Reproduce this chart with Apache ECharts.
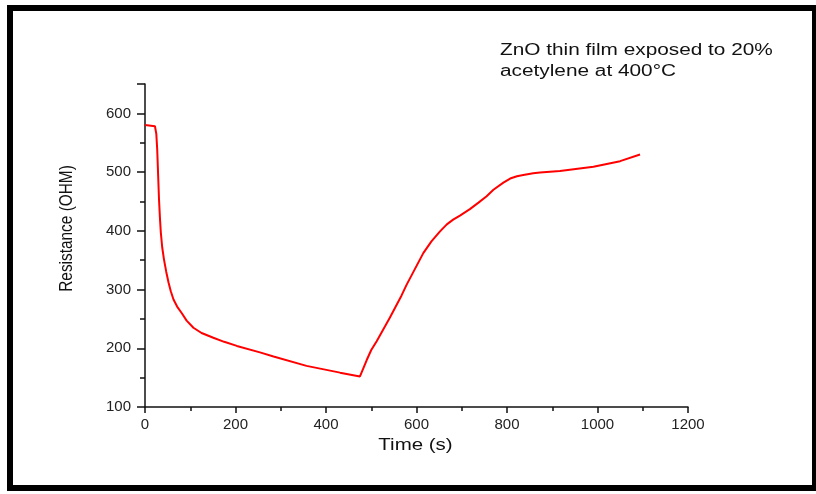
<!DOCTYPE html>
<html>
<head>
<meta charset="utf-8">
<script src="https://cdn.jsdelivr.net/npm/echarts@6/dist/echarts.min.js"></script>
<style>
  html, body { margin: 0; padding: 0; background: #fff; }
  #chart { width: 816px; height: 494px; }
</style>
</head>
<body>
<div id="chart"></div>
<script>
// time (s) and resistance (ohm)
var times = [0, 22, 25, 27, 29, 31, 33, 35, 38, 42, 47, 52, 57, 63, 71, 81, 92, 107, 125, 151, 175,
    203, 254, 284, 357, 431, 475,
    482, 490, 500, 512, 541, 567, 578, 615, 633, 652, 667, 681, 696, 718, 737, 755, 770, 792,
    807, 822, 836, 858, 873, 917, 991, 1050, 1094];
var resistance = [580, 578, 565, 538, 495, 453, 422, 397, 372, 351, 330, 312, 297, 283, 271, 260, 247, 235, 226, 218, 211,
    204, 193, 186, 170, 158.5, 152,
    165, 180, 197, 212, 252, 290, 308, 362, 382, 399, 411, 419, 426, 437, 448, 459, 470, 482,
    489, 493, 495, 498, 499.5, 502, 509, 518.6, 530];

var titleLines = ['ZnO thin film exposed to 20%', 'acetylene at 400\u00B0C'];
var xName = 'Time (s)';
var yName = 'Resistance (OHM)';

var chart = echarts.init(document.getElementById('chart'));

var points = [];
for (var i = 0; i < times.length; i++) {
    points.push([times[i], resistance[i]]);
}

var font = 'Liberation Sans, Arial, sans-serif';
var plain = function (v) { return String(v); };

var option = {
    backgroundColor: '#fff',
    animation: false,
    grid: { left: 145, right: 128, top: 84, bottom: 87 },
    xAxis: {
        type: 'value',
        min: 0,
        max: 1200,
        interval: 200,
        axisLine: { lineStyle: { color: '#111', width: 1.5 } },
        axisTick: { length: 6, lineStyle: { color: '#111', width: 1.5 } },
        minorTick: { show: true, splitNumber: 2, length: 4, lineStyle: { color: '#111', width: 1.5 } },
        splitLine: { show: false },
        axisLabel: { margin: 10, color: '#222', fontSize: 15, fontFamily: font, formatter: plain }
    },
    yAxis: {
        type: 'value',
        min: 100,
        max: 650,
        interval: 100,
        axisLine: { show: true, lineStyle: { color: '#111', width: 1.5 } },
        axisTick: { show: true, length: 8, lineStyle: { color: '#111', width: 1.5 } },
        minorTick: { show: true, splitNumber: 2, length: 5, lineStyle: { color: '#111', width: 1.5 } },
        splitLine: { show: false },
        axisLabel: { margin: 14, color: '#222', fontSize: 15, fontFamily: font, showMaxLabel: false, formatter: plain }
    },
    graphic: [
        {
            type: 'rect',
            shape: { x: 10, y: 8, width: 805, height: 480 },
            style: { fill: 'none', stroke: '#000', lineWidth: 6 }
        },
        {
            type: 'text', x: 500, y: 51, scaleX: 1.3,
            style: { text: titleLines[0], font: '16px ' + font, fill: '#111', textAlign: 'left', textVerticalAlign: 'middle' }
        },
        {
            type: 'text', x: 500, y: 71.5, scaleX: 1.3,
            style: { text: titleLines[1], font: '16px ' + font, fill: '#111', textAlign: 'left', textVerticalAlign: 'middle' }
        },
        {
            type: 'text', x: 415.5, y: 446, scaleX: 1.28,
            style: { text: xName, font: '16px ' + font, fill: '#111', textAlign: 'center', textVerticalAlign: 'middle' }
        },
        {
            type: 'text', x: 67, y: 228.5, rotation: Math.PI / 2, scaleY: 1.15,
            style: { text: yName, font: '15.4px ' + font, fill: '#111', textAlign: 'center', textVerticalAlign: 'middle' }
        }
    ],
    series: [
        {
            type: 'line',
            data: points,
            showSymbol: false,
            smooth: false,
            lineStyle: { color: '#ff0000', width: 2 }
        }
    ]
};

chart.setOption(option);
</script>
</body>
</html>
